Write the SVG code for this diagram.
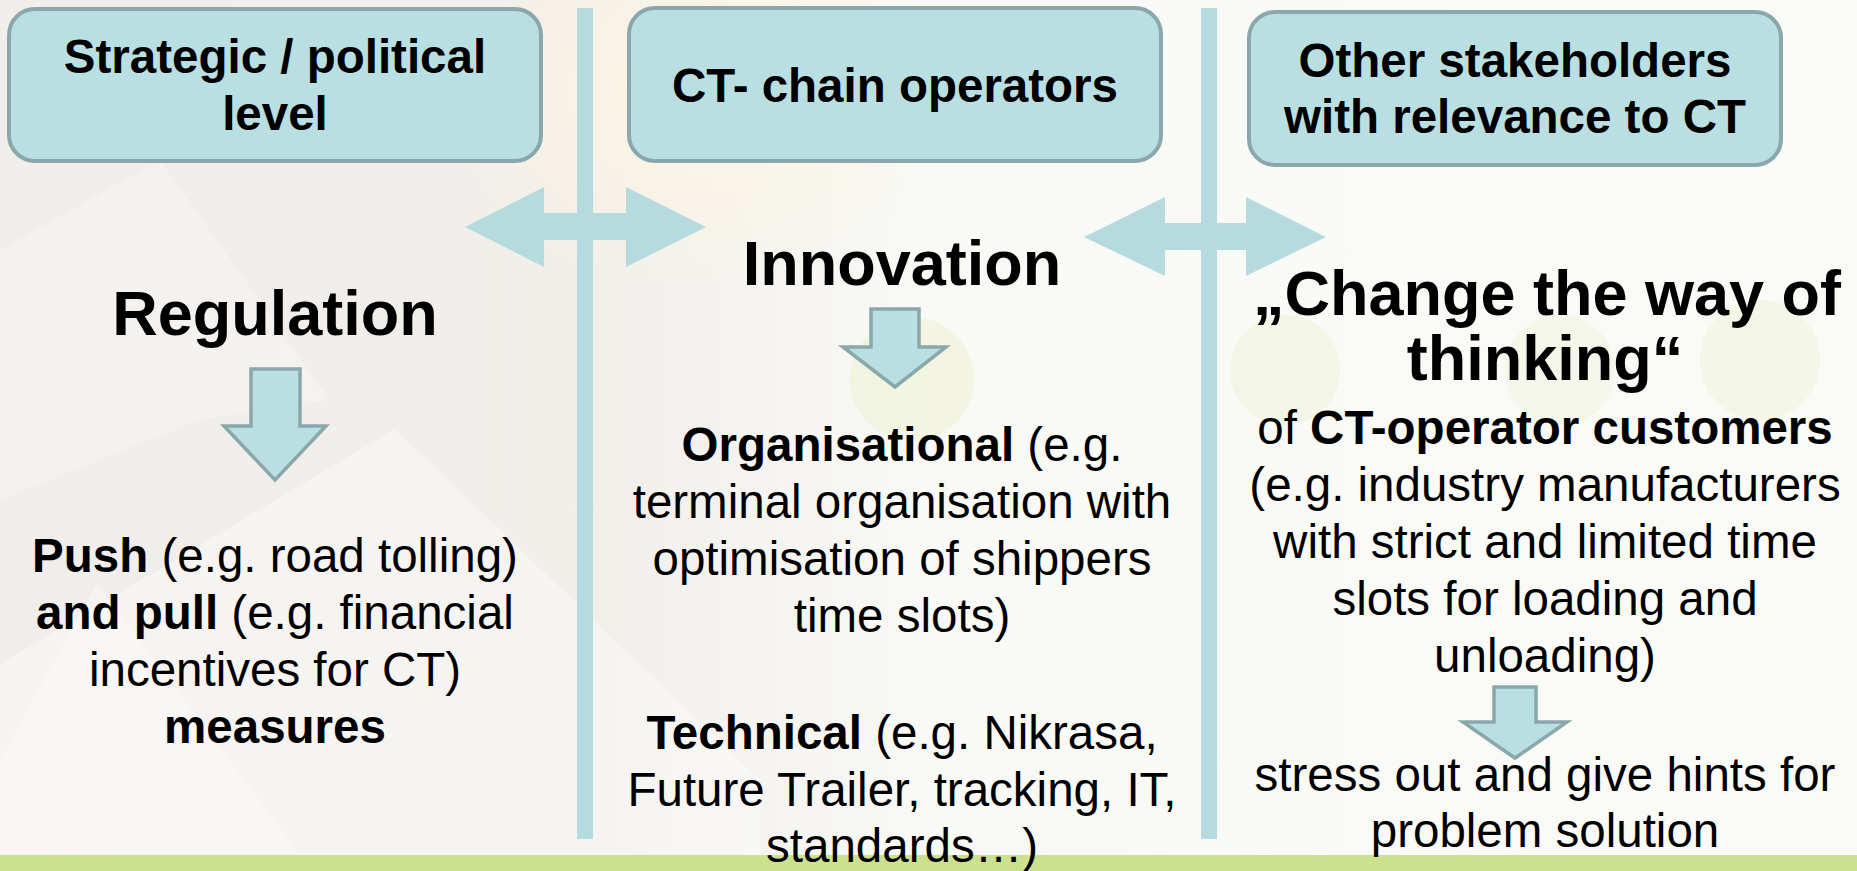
<svg xmlns="http://www.w3.org/2000/svg" width="1857" height="871" viewBox="0 0 1857 871">
<defs>
<linearGradient id="bg" x1="0" y1="0" x2="1" y2="0">
<stop offset="0" stop-color="#f1edea"/>
<stop offset="0.33" stop-color="#f2efeb"/>
<stop offset="0.5" stop-color="#f9f9f6"/>
<stop offset="1" stop-color="#fafbf7"/>
</linearGradient>
<radialGradient id="glow" cx="0.5" cy="0.5" r="0.5">
<stop offset="0" stop-color="#fdf6e2"/>
<stop offset="1" stop-color="#fdf6e2" stop-opacity="0"/>
</radialGradient>
<style>
.box{fill:#b9dfe2;stroke:#8aa8ab;stroke-width:4}
.sep{fill:#b6dbde}
.down{fill:#b9dfe2;stroke:#8aa8ab;stroke-width:3.5;stroke-linejoin:miter}
text{font-family:"Liberation Sans",Arial,sans-serif;fill:#000;text-anchor:middle}
.t{font-size:47.5px;font-weight:bold}
.h{font-size:63px;font-weight:bold}
.b{font-size:47.5px}
.bold{font-weight:bold}
</style>
</defs>
<g id="background">
<rect x="0" y="0" width="1857" height="871" fill="url(#bg)"/>
<ellipse cx="700" cy="90" rx="260" ry="200" fill="url(#glow)"/>
<polygon points="0,664 395,429 760,780 760,855 0,855" fill="#ffffff" opacity="0.35"/>
<polygon points="0,760 97,583 300,855 0,855" fill="#ffffff" opacity="0.3"/>
<polygon points="0,250 160,160 330,400 200,420 0,500" fill="#ffffff" opacity="0.25"/>
<circle cx="912" cy="379" r="62" fill="#eef2d6" opacity="0.6"/>
<circle cx="1285" cy="370" r="55" fill="#eef2d6" opacity="0.5"/>
<circle cx="1560" cy="370" r="55" fill="#eef2d6" opacity="0.45"/>
<circle cx="1760" cy="360" r="60" fill="#eef2d6" opacity="0.5"/>
<rect x="0" y="855" width="1857" height="16" fill="#cce18e"/>
</g>
<g id="connectors">
<rect class="sep" x="577" y="8" width="16" height="831"/>
<rect class="sep" x="1201" y="8" width="16" height="831"/>
<polygon class="sep" points="465,227 544,187 544,213 626,213 626,187 706,227 626,267 626,240 544,240 544,267"/>
<polygon class="sep" points="1084,237 1165,197 1165,223 1246,223 1246,197 1326,237 1246,276 1246,250 1165,250 1165,276"/>
<polygon class="down" points="251,369 300,369 300,426 326,426 275,480 224,426 251,426"/>
<polygon class="down" points="871,309 919,309 919,347 946,347 895,387 843,347 871,347"/>
<polygon class="down" points="1494,687 1536,687 1536,722 1567,722 1515,758 1463,722 1494,722"/>
</g>
<g id="node-strategic">
<rect class="box" x="9" y="9" width="532" height="152" rx="26"/>
<text class="t" x="275" y="73">Strategic / political</text>
<text class="t" x="275" y="130">level</text>
</g>
<g id="node-ct-chain">
<rect class="box" x="629" y="8" width="532" height="153" rx="26"/>
<text class="t" x="895" y="102">CT- chain operators</text>
</g>
<g id="node-other">
<rect class="box" x="1249" y="12" width="532" height="153" rx="26"/>
<text class="t" x="1515" y="77">Other stakeholders</text>
<text class="t" x="1515" y="133">with relevance to CT</text>
</g>
<g id="col-regulation">
<text class="h" x="275" y="335">Regulation</text>
<text class="b" x="275" y="572"><tspan class="bold">Push</tspan> (e.g. road tolling)</text>
<text class="b" x="275" y="629"><tspan class="bold">and pull</tspan> (e.g. financial</text>
<text class="b" x="275" y="686">incentives for CT)</text>
<text class="b bold" x="275" y="743">measures</text>
</g>
<g id="col-innovation">
<text class="h" x="902" y="285">Innovation</text>
<text class="b" x="902" y="461"><tspan class="bold">Organisational</tspan> (e.g.</text>
<text class="b" x="902" y="518">terminal organisation with</text>
<text class="b" x="902" y="575">optimisation of shippers</text>
<text class="b" x="902" y="632">time slots)</text>
<text class="b" x="902" y="749"><tspan class="bold">Technical</tspan> (e.g. Nikrasa,</text>
<text class="b" x="902" y="806">Future Trailer, tracking, IT,</text>
<text class="b" x="902" y="862">standards…)</text>
</g>
<g id="col-thinking">
<text class="h" x="1547" y="315">„Change the way of</text>
<text class="h" x="1545" y="380">thinking“</text>
<text class="b" x="1545" y="444">of <tspan class="bold">CT-operator customers</tspan></text>
<text class="b" x="1545" y="501">(e.g. industry manufacturers</text>
<text class="b" x="1545" y="558">with strict and limited time</text>
<text class="b" x="1545" y="615">slots for loading and</text>
<text class="b" x="1545" y="672">unloading)</text>
<text class="b" x="1545" y="791">stress out and give hints for</text>
<text class="b" x="1545" y="847">problem solution</text>
</g>
</svg>
